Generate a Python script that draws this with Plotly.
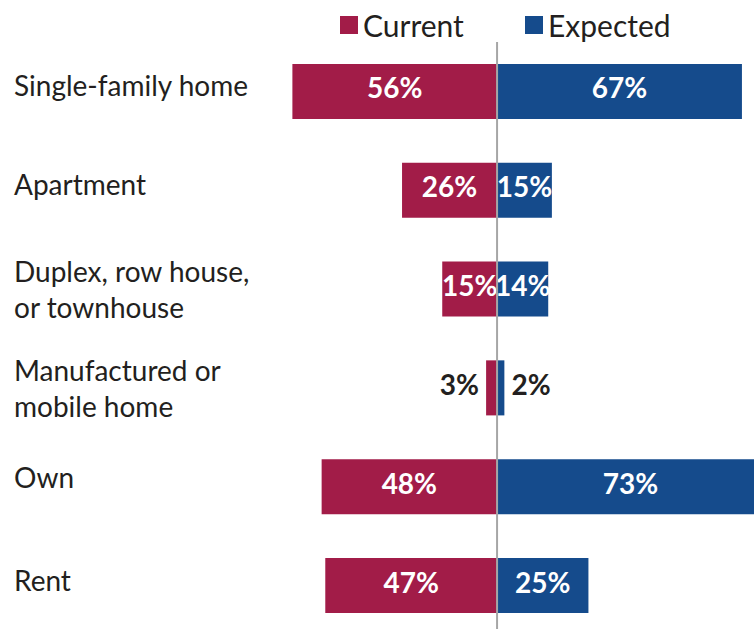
import plotly.graph_objects as go

categories = ["Single-family home", "Apartment", "Duplex, row house,<br>or townhouse",
              "Manufactured or<br>mobile home", "Own", "Rent"]
current = [56, 26, 15, 3, 48, 47]
expected = [67, 15, 14, 2, 73, 25]

CURRENT_COLOR = "#A21C48"
EXPECTED_COLOR = "#154B8C"
TEXT_COLOR = "#231F20"
FONT = "Lato"
SMALL = 5  # bars narrower than this get their label outside

rows = list(range(len(categories)))


def bar_trace(vals, sign, name, color):
    return go.Bar(
        y=rows, x=[sign * v for v in vals], orientation="h", name=name,
        marker=dict(color=color, line=dict(width=0)),
        width=0.557, cliponaxis=True, showlegend=False, hoverinfo="skip",
    )


def label_trace(vals, sign):
    # value labels: centred in wide bars, just past the end of narrow ones
    xs, pos, cols = [], [], []
    for v in vals:
        if v < SMALL:
            xs.append(sign * v)
            pos.append("middle left" if sign < 0 else "middle right")
            cols.append(TEXT_COLOR)
        else:
            xs.append(sign * v / 2)
            pos.append("middle center")
            cols.append("white")
    return go.Scatter(
        x=xs, y=rows, mode="markers+text", text=[f"{v}%" for v in vals],
        marker=dict(size=10, opacity=0),
        textposition=pos, cliponaxis=False, showlegend=False, hoverinfo="skip",
        textfont=dict(family=FONT, size=28, color=cols, weight="bold"),
    )


fig = go.Figure()
fig.add_trace(bar_trace(current, -1, "Current", CURRENT_COLOR))
fig.add_trace(bar_trace(expected, 1, "Expected", EXPECTED_COLOR))

# category labels on the left
label_shift = [6, 6, 0, 0, 10, 6]
for r, cat, dy in zip(rows, categories, label_shift):
    fig.add_annotation(
        x=12 / 754, xref="paper", y=r, yref="y", xanchor="left", yanchor="middle",
        text=cat, showarrow=False, align="left", yshift=dy,
        font=dict(family=FONT, size=28, color=TEXT_COLOR),
    )

# centre divider
fig.add_shape(type="line", x0=0, x1=0, xref="x", y0=0, y1=1.0, yref="paper",
              line=dict(color="#A6A6A6", width=2), layer="above")

fig.add_trace(label_trace(current, -1))
fig.add_trace(label_trace(expected, 1))

# legend drawn across the top
W, H, TOP = 754, 629, 42
PLOT_H = H - TOP


def paper_y(px):
    return (H - px) / PLOT_H


legend_items = [("Current", CURRENT_COLOR, 340), ("Expected", EXPECTED_COLOR, 525)]
for name, color, px in legend_items:
    fig.add_shape(type="rect", xref="paper", yref="paper",
                  x0=px / W, x1=(px + 18) / W, y0=paper_y(34), y1=paper_y(16),
                  fillcolor=color, line=dict(width=0))
    fig.add_annotation(x=(px + 21) / W, xref="paper", y=paper_y(25), yref="paper",
                       xanchor="left", yanchor="middle", text=name, showarrow=False,
                       font=dict(family=FONT, size=30, color=TEXT_COLOR))

fig.update_xaxes(range=[-136.0, 70.3], visible=False, fixedrange=True)
fig.update_yaxes(range=[5.44, -0.5], visible=False, fixedrange=True)
fig.update_layout(
    width=W, height=H, margin=dict(l=0, r=0, t=TOP, b=0),
    barmode="overlay", plot_bgcolor="white", paper_bgcolor="white",
    font=dict(family=FONT),
)

fig.write_html("out.html")
